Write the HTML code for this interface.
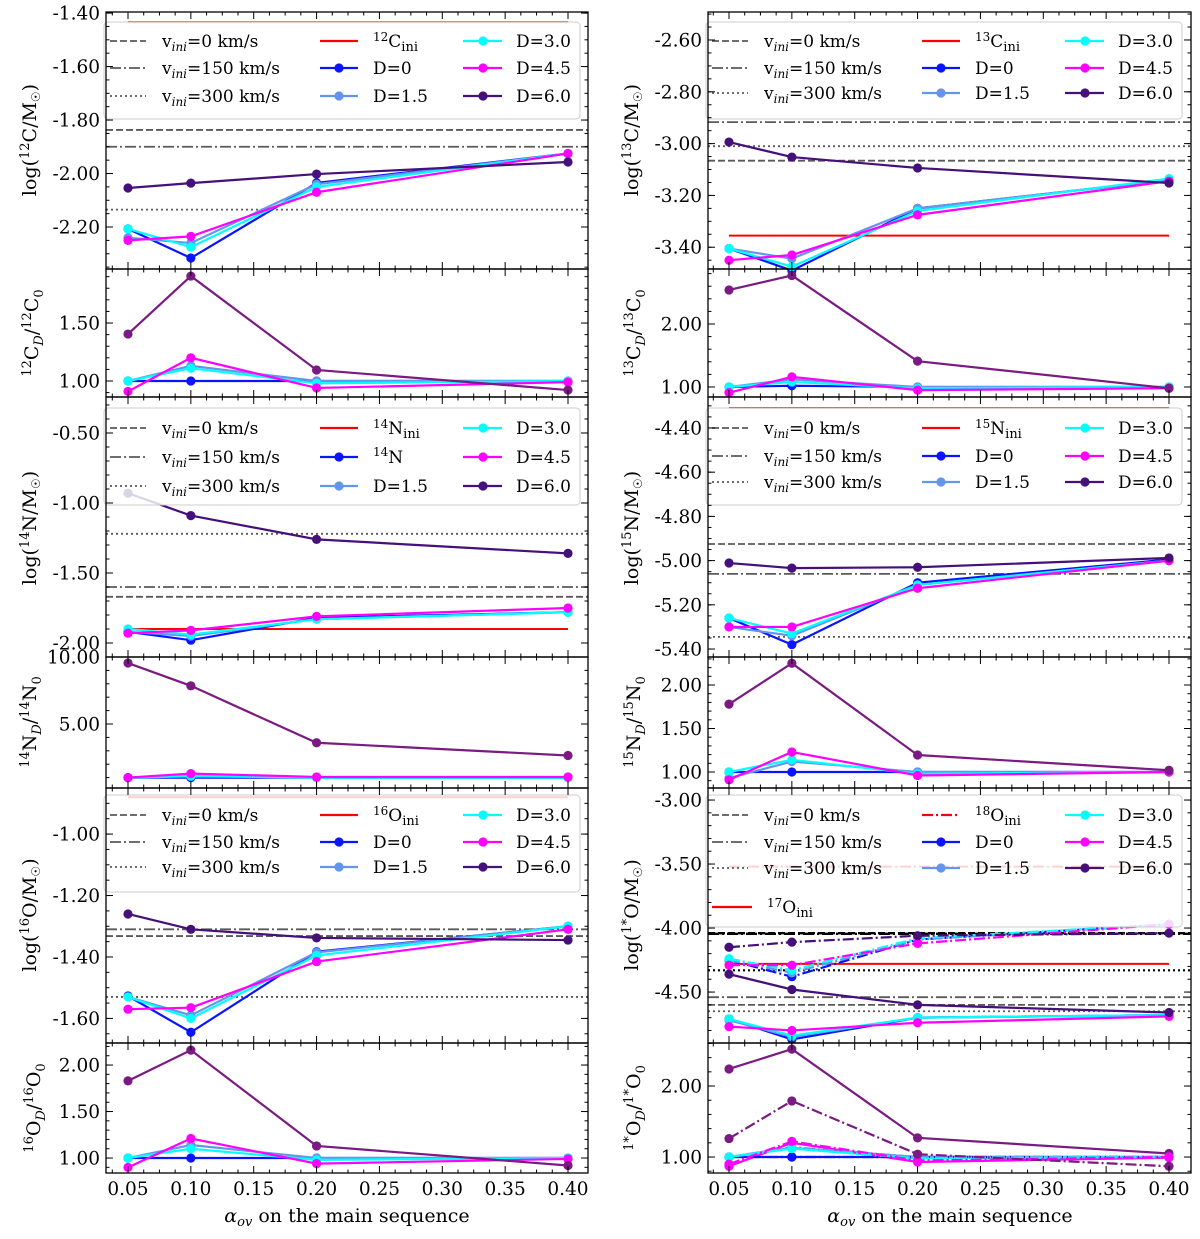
<!DOCTYPE html>
<html><head><meta charset="utf-8"><title>Isotope abundances vs overshoot</title>
<style>
html,body{margin:0;padding:0;background:#fff;}
svg{display:block;font-family:"DejaVu Serif","Liberation Serif",serif;}
</style></head>
<body>
<svg id="chart" width="1200" height="1239" viewBox="0 0 1200 1239" xmlns="http://www.w3.org/2000/svg"></svg>
<script>
// ---------- data ----------
const xVals = [0.05, 0.10, 0.20, 0.40];
const xTicks = [0.05, 0.10, 0.15, 0.20, 0.25, 0.30, 0.35, 0.40];
const xTickLabels = ["0.05","0.10","0.15","0.20","0.25","0.30","0.35","0.40"];

// 12C
const c12_d0 = [-2.207, -2.316, -2.035, -1.925];
const c12_d15 = [-2.24, -2.26, -2.04, -1.925];
const c12_d3 = [-2.207, -2.275, -2.05, -1.925];
const c12_d45 = [-2.25, -2.235, -2.07, -1.925];
const c12_d6 = [-2.054, -2.036, -2.002, -1.957];
const c12_h = [-1.837, -1.90, -2.135, -1.434]; // v0, v150, v300, ini
const c12r_d0 = [1, 1, 1, 1];
const c12r_d15 = [1.0, 1.13, 1.0, 1.0];
const c12r_d3 = [1.0, 1.11, 0.98, 1.0];
const c12r_d45 = [0.91, 1.2, 0.94, 0.99];
const c12r_d6 = [1.405, 1.905, 1.095, 0.922];
// 13C
const c13_d0 = [-3.405, -3.49, -3.25, -3.14];
const c13_d15 = [-3.405, -3.444, -3.25, -3.14];
const c13_d3 = [-3.405, -3.475, -3.26, -3.135];
const c13_d45 = [-3.45, -3.43, -3.275, -3.145];
const c13_d6 = [-2.994, -3.052, -3.094, -3.152];
const c13_h = [-3.066, -2.917, -3.01, -3.355];
const c13r_d0 = [1, 1.02, 1, 1];
const c13r_d15 = [1, 1.12, 1, 1];
const c13r_d3 = [1, 1.08, 0.98, 1];
const c13r_d45 = [0.91, 1.16, 0.95, 0.98];
const c13r_d6 = [2.54, 2.77, 1.41, 0.98];
// 14N
const n14_d0 = [-1.92, -1.98, -1.82, -1.78];
const n14_d15 = [-1.92, -1.95, -1.83, -1.78];
const n14_d3 = [-1.90, -1.94, -1.83, -1.78];
const n14_d45 = [-1.93, -1.91, -1.81, -1.75];
const n14_d6 = [-0.93, -1.09, -1.26, -1.36];
const n14_h = [-1.67, -1.60, -1.22, -1.90];
const n14r_d0 = [1, 1, 1, 1];
const n14r_d15 = [1, 1.15, 1, 1];
const n14r_d3 = [1, 1.1, 1, 1];
const n14r_d45 = [1, 1.3, 1.05, 1.05];
const n14r_d6 = [9.55, 7.85, 3.6, 2.65];
// 15N
const n15_d0 = [-5.26, -5.38, -5.10, -4.995];
const n15_d15 = [-5.30, -5.34, -5.11, -5.0];
const n15_d3 = [-5.26, -5.33, -5.11, -5.0];
const n15_d45 = [-5.30, -5.30, -5.125, -5.0];
const n15_d6 = [-5.011, -5.034, -5.03, -4.988];
const n15_h = [-4.925, -5.06, -5.345, -4.31];
const n15r_d0 = [1, 1, 1, 1];
const n15r_d15 = [0.93, 1.12, 1, 1];
const n15r_d3 = [1, 1.14, 0.98, 1];
const n15r_d45 = [0.91, 1.23, 0.96, 1];
const n15r_d6 = [1.78, 2.25, 1.195, 1.02];
// 16O
const o16_d0 = [-1.527, -1.645, -1.383, -1.30];
const o16_d15 = [-1.53, -1.59, -1.385, -1.30];
const o16_d3 = [-1.53, -1.60, -1.395, -1.30];
const o16_d45 = [-1.57, -1.565, -1.415, -1.31];
const o16_d6 = [-1.26, -1.31, -1.338, -1.345];
const o16_h = [-1.332, -1.31, -1.53, -0.88];
const o16r_d0 = [1, 1, 1, 1];
const o16r_d15 = [1, 1.14, 1, 1];
const o16r_d3 = [1, 1.10, 0.98, 1];
const o16r_d45 = [0.90, 1.21, 0.94, 0.99];
const o16r_d6 = [1.83, 2.16, 1.13, 0.92];
// 17O (solid) and 18O (dash-dot)
const o17_d0 = [-4.71, -4.87, -4.70, -4.68];
const o17_d15 = [-4.72, -4.85, -4.70, -4.68];
const o17_d3 = [-4.71, -4.84, -4.70, -4.68];
const o17_d45 = [-4.77, -4.80, -4.74, -4.69];
const o17_d6 = [-4.36, -4.48, -4.60, -4.66];
const o17_h = [-4.60, -4.54, -4.65, -4.28];
const o18_d0 = [-4.25, -4.38, -4.09, -3.97];
const o18_d15 = [-4.25, -4.35, -4.09, -3.97];
const o18_d3 = [-4.24, -4.33, -4.08, -3.97];
const o18_d45 = [-4.29, -4.29, -4.12, -3.97];
const o18_d6 = [-4.15, -4.11, -4.06, -4.04];
const o18_h = [-4.04, -4.045, -4.33, -3.52];
const o17r_d0 = [1, 1, 1, 1];
const o17r_d15 = [1, 1.13, 1, 1];
const o17r_d3 = [1, 1.12, 0.98, 1];
const o17r_d45 = [0.87, 1.2, 0.93, 0.99];
const o17r_d6 = [2.24, 2.52, 1.27, 1.05];
const o18r_d0 = [1, 1, 1, 1];
const o18r_d15 = [1, 1.14, 1, 1];
const o18r_d3 = [1, 1.12, 0.98, 1];
const o18r_d45 = [0.9, 1.22, 0.95, 1.0];
const o18r_d6 = [1.26, 1.79, 1.04, 0.87];

// tick values
const tL1 = [-1.40, -1.60, -1.80, -2.00, -2.20];
const tL1r = [1.00, 1.50];
const tR1 = [-2.60, -2.80, -3.00, -3.20, -3.40];
const tR1r = [1.00, 2.00];
const tL2 = [-0.50, -1.00, -1.50, -2.00];
const tL2r = [5.00, 10.00];
const tR2 = [-4.40, -4.60, -4.80, -5.00, -5.20, -5.40];
const tR2r = [1.00, 1.50, 2.00];
const tL3 = [-1.00, -1.20, -1.40, -1.60];
const tL3r = [1.00, 1.50, 2.00];
const tR3 = [-3.00, -3.50, -4.00, -4.50];
const tR3r = [1.00, 2.00];

// ---------- drawing ----------
const NS = "http://www.w3.org/2000/svg";
const svg = document.getElementById("chart");
function mk(tag, attrs, parent) {
  const e = document.createElementNS(NS, tag);
  for (const k in attrs) e.setAttribute(k, attrs[k]);
  (parent || svg).appendChild(e);
  return e;
}
const COL = {d0: "#0a14ff", d15: "#6495ed", d3: "#00ffff", d45: "#ff00ff", d6: "#46107a", d6r: "#7a1a82", gray: "#5a5a5a"};
const DASH = {dash: "7,3", dashdot: "11,3,2,3", dot: "2,3", solid: ""};
const SIDES = {L: {x0: 106, x1: 588, a: 128}, R: {x0: 708, x1: 1191, a: 729}};
const XS = 440 / 0.35;
const TICKFS = 18.5;

function makeAxes(side, top, bot, vTop, vBot) {
  const s = SIDES[side];
  return {
    s, top, bot,
    x: v => s.a + (v - 0.05) * XS,
    y: v => top + (vTop - v) / (vTop - vBot) * (bot - top),
    vTop, vBot
  };
}

function drawFrame(ax, ticks, minorStep, showX, name) {
  const g = mk("g", {});
  
  
  const s = ax.s;
  const fr = mk("rect", {x: s.x0, y: ax.top, width: s.x1 - s.x0, height: ax.bot - ax.top, fill: "none", stroke: "#000", "stroke-width": 1.3}, g);
  
  
  for (let v = 0.0375; v <= 0.4001; v += 0.0125) {
    const px = ax.x(v);
    if (px < s.x0 || px > s.x1) continue;
    const major = Math.abs((v / 0.05) - Math.round(v / 0.05)) < 1e-6;
    const L = major ? 7 : 3.5;
    mk("line", {x1: px, x2: px, y1: ax.bot, y2: ax.bot - L, stroke: "#000", "stroke-width": 1}, g);
    mk("line", {x1: px, x2: px, y1: ax.top, y2: ax.top + L, stroke: "#000", "stroke-width": 1}, g);
  }
  if (showX) {
    xTicks.forEach((v, i) => {
      const t = mk("text", {x: ax.x(v), y: ax.bot + 22, "font-size": TICKFS, "text-anchor": "middle", fill: "#000"}, g);
      t.textContent = xTickLabels[i];
      
      
    });
  }
  const lo = Math.min(ax.vTop, ax.vBot), hi = Math.max(ax.vTop, ax.vBot);
  for (let v = Math.ceil(lo / minorStep) * minorStep; v <= hi; v += minorStep) {
    const py = ax.y(v);
    mk("line", {x1: s.x0, x2: s.x0 + 3.5, y1: py, y2: py, stroke: "#000", "stroke-width": 1}, g);
    mk("line", {x1: s.x1, x2: s.x1 - 3.5, y1: py, y2: py, stroke: "#000", "stroke-width": 1}, g);
  }
  ticks.forEach(v => {
    const py = ax.y(v);
    mk("line", {x1: s.x0, x2: s.x0 + 7, y1: py, y2: py, stroke: "#000", "stroke-width": 1}, g);
    mk("line", {x1: s.x1, x2: s.x1 - 7, y1: py, y2: py, stroke: "#000", "stroke-width": 1}, g);
    const t = mk("text", {x: s.x0 - 6, y: py + 6.5, "font-size": TICKFS, "text-anchor": "end", fill: "#000"}, g);
    t.textContent = v.toFixed(2);
    
    
  });
}

function hline(ax, v, color, dash, w, name) {
  const l = mk("line", {x1: ax.s.x0, x2: ax.s.x1, y1: ax.y(v), y2: ax.y(v), stroke: color, "stroke-width": w || 1.8, "stroke-dasharray": DASH[dash]});
  
  
}
function hlineIni(ax, v, dash, name) {
  const l = mk("line", {x1: ax.x(0.05), x2: ax.x(0.40), y1: ax.y(v), y2: ax.y(v), stroke: "#ff0000", "stroke-width": 2, "stroke-dasharray": DASH[dash]});
  
  
}
function series(ax, vals, color, dash, name) {
  const g = mk("g", {});
  
  
  const pts = vals.map((v, i) => ax.x(xVals[i]) + "," + ax.y(v)).join(" ");
  mk("polyline", {points: pts, fill: "none", stroke: color, "stroke-width": 2.2, "stroke-dasharray": DASH[dash]}, g);
  vals.forEach((v, i) => {
    const c = mk("circle", {cx: ax.x(xVals[i]), cy: ax.y(v), r: 4.6, fill: color}, g);
    
    
  });
}
function fiveSeries(ax, d0, d15, d3, d45, d6, dash, ratio, name) {
  series(ax, d0, COL.d0, dash, name + "-d0");
  series(ax, d15, COL.d15, dash, name + "-d1.5");
  series(ax, d3, COL.d3, dash, name + "-d3.0");
  series(ax, d45, COL.d45, dash, name + "-d4.5");
  series(ax, d6, ratio ? COL.d6r : COL.d6, dash, name + "-d6.0");
}

function ylabel(x, yc, html, name) {
  const t = mk("text", {x: 0, y: 0, transform: "translate(" + x + "," + yc + ") rotate(-90)", "font-size": 19, "text-anchor": "middle", fill: "#000"});
  t.innerHTML = html;
  
  
}
function supEl(s, el) { return '<tspan dy="-7" font-size="12">' + s + '</tspan><tspan dy="7">' + el + '</tspan>'; }

function legend(side, top, rows, mid, extraRow) {
  const off = side === "L" ? 0 : 602;
  const h = extraRow ? 132 : 97;
  const g = mk("g", {});
  
  
  mk("rect", {x: 104 + off, y: top, width: 476, height: h, rx: 4, fill: "#fff", "fill-opacity": 0.82, stroke: "#cccccc", "stroke-width": 1}, g);
  const vlabels = ["=0 km/s", "=150 km/s", "=300 km/s"];
  const vd = ["dash", "dashdot", "dot"];
  for (let i = 0; i < 3; i++) {
    const yy = rows[i];
    mk("line", {x1: 110 + off, x2: 146 + off, y1: yy, y2: yy, stroke: COL.gray, "stroke-width": 1.8, "stroke-dasharray": DASH[vd[i]]}, g);
    const t = mk("text", {x: 162 + off, y: yy + 6, "font-size": 17, fill: "#000"}, g);
    t.innerHTML = 'v<tspan dy="4" font-size="12" font-style="italic">ini</tspan><tspan dy="-4">' + vlabels[i] + '</tspan>';
    
    
  }
  const c2 = [{color: "#ff0000", marker: false, dash: mid.iniDash, label: mid.ini},
              {color: COL.d0, marker: true, dash: "solid", label: mid.second},
              {color: COL.d15, marker: true, dash: "solid", label: "D=1.5"}];
  const c3 = [{color: COL.d3, label: "D=3.0"}, {color: COL.d45, label: "D=4.5"}, {color: COL.d6, label: "D=6.0"}];
  c2.forEach((e, i) => {
    const yy = rows[i];
    mk("line", {x1: 320 + off, x2: 358 + off, y1: yy, y2: yy, stroke: e.color, "stroke-width": 2.2, "stroke-dasharray": DASH[e.dash]}, g);
    if (e.marker) mk("circle", {cx: 339 + off, cy: yy, r: 4.6, fill: e.color}, g);
    const t = mk("text", {x: 373 + off, y: yy + 6, "font-size": 17, fill: "#000"}, g);
    t.innerHTML = e.label;
    
    
  });
  c3.forEach((e, i) => {
    const yy = rows[i];
    mk("line", {x1: 463 + off, x2: 502 + off, y1: yy, y2: yy, stroke: e.color, "stroke-width": 2.2}, g);
    mk("circle", {cx: 483 + off, cy: yy, r: 4.6, fill: e.color}, g);
    const t = mk("text", {x: 516 + off, y: yy + 6, "font-size": 17, fill: "#000"}, g);
    t.textContent = e.label;
    
    
  });
  if (extraRow) {
    const yy = extraRow.y;
    mk("line", {x1: 110 + off, x2: 150 + off, y1: yy, y2: yy, stroke: "#ff0000", "stroke-width": 2.2}, g);
    const t = mk("text", {x: 165 + off, y: yy + 6, "font-size": 17, fill: "#000"}, g);
    t.innerHTML = extraRow.label;
    
    
  }
}
const iniLbl = (m, el) => '<tspan dy="-6" font-size="12">' + m + '</tspan><tspan dy="6">' + el + '</tspan><tspan dy="4" font-size="13">ini</tspan><tspan dy="-4"></tspan>';

// ===== Row 1 =====
let a = makeAxes("L", 12, 269, -1.396, -2.357);
hline(a, c12_h[0], COL.gray, "dash", 1.8, "vini0-line"); hline(a, c12_h[1], COL.gray, "dashdot", 1.8, "vini150-line"); hline(a, c12_h[2], COL.gray, "dot", 1.8, "vini300-line");
hlineIni(a, c12_h[3], "solid", "c12-ini-line");
fiveSeries(a, c12_d0, c12_d15, c12_d3, c12_d45, c12_d6, "solid", false, "c12");
legend("L", 22, [41, 68, 96], {ini: iniLbl("12", "C"), iniDash: "solid", second: "D=0"});
drawFrame(a, tL1, 0.05, false, "c12-main");
a = makeAxes("L", 269, 397, 1.966, 0.862);
fiveSeries(a, c12r_d0, c12r_d15, c12r_d3, c12r_d45, c12r_d6, "solid", true, "c12-ratio");
drawFrame(a, tL1r, 0.1, false, "c12-ratio");

a = makeAxes("R", 12, 269, -2.492, -3.484);
hline(a, c13_h[0], COL.gray, "dash", 1.8, "vini0-line"); hline(a, c13_h[1], COL.gray, "dashdot", 1.8, "vini150-line"); hline(a, c13_h[2], COL.gray, "dot", 1.8, "vini300-line");
hlineIni(a, c13_h[3], "solid", "c13-ini-line");
fiveSeries(a, c13_d0, c13_d15, c13_d3, c13_d45, c13_d6, "solid", false, "c13");
legend("R", 22, [41, 68, 93], {ini: iniLbl("13", "C"), iniDash: "solid", second: "D=0"});
drawFrame(a, tR1, 0.05, false, "c13-main");
a = makeAxes("R", 269, 397, 2.873, 0.841);
fiveSeries(a, c13r_d0, c13r_d15, c13r_d3, c13r_d45, c13r_d6, "solid", true, "c13-ratio");
drawFrame(a, tR1r, 0.2, false, "c13-ratio");

// ===== Row 2 =====
a = makeAxes("L", 397, 657, -0.243, -2.10);
hline(a, n14_h[0], COL.gray, "dash", 1.8, "vini0-line"); hline(a, n14_h[1], COL.gray, "dashdot", 1.8, "vini150-line"); hline(a, n14_h[2], COL.gray, "dot", 1.8, "vini300-line");
hlineIni(a, n14_h[3], "solid", "n14-ini-line");
fiveSeries(a, n14_d0, n14_d15, n14_d3, n14_d45, n14_d6, "solid", false, "n14");
legend("L", 408, [428, 457, 486], {ini: iniLbl("14", "N"), iniDash: "solid", second: supEl("14", "N")});
drawFrame(a, tL2, 0.1, false, "n14-main");
a = makeAxes("L", 657, 788, 10.0, 0.224);
fiveSeries(a, n14r_d0, n14r_d15, n14r_d3, n14r_d45, n14r_d6, "solid", true, "n14-ratio");
drawFrame(a, tL2r, 1, false, "n14-ratio");

a = makeAxes("R", 397, 657, -4.26, -5.436);
hline(a, n15_h[0], COL.gray, "dash", 1.8, "vini0-line"); hline(a, n15_h[1], COL.gray, "dashdot", 1.8, "vini150-line"); hline(a, n15_h[2], COL.gray, "dot", 1.8, "vini300-line");
hlineIni(a, n15_h[3], "solid", "n15-ini-line");
fiveSeries(a, n15_d0, n15_d15, n15_d3, n15_d45, n15_d6, "solid", false, "n15");
legend("R", 408, [428, 456, 482], {ini: iniLbl("15", "N"), iniDash: "solid", second: "D=0"});
drawFrame(a, tR2, 0.05, false, "n15-main");
a = makeAxes("R", 657, 788, 2.322, 0.816);
fiveSeries(a, n15r_d0, n15r_d15, n15r_d3, n15r_d45, n15r_d6, "solid", true, "n15-ratio");
drawFrame(a, tR2r, 0.1, false, "n15-ratio");

// ===== Row 3 =====
a = makeAxes("L", 788, 1043, -0.85, -1.68);
hline(a, o16_h[0], COL.gray, "dash", 1.8, "vini0-line"); hline(a, o16_h[1], COL.gray, "dashdot", 1.8, "vini150-line"); hline(a, o16_h[2], COL.gray, "dot", 1.8, "vini300-line");
hlineIni(a, o16_h[3], "solid", "o16-ini-line");
fiveSeries(a, o16_d0, o16_d15, o16_d3, o16_d45, o16_d6, "solid", false, "o16");
legend("L", 795, [815, 842, 867], {ini: iniLbl("16", "O"), iniDash: "solid", second: "D=0"});
drawFrame(a, tL3, 0.05, false, "o16-main");
a = makeAxes("L", 1043, 1173, 2.237, 0.839);
fiveSeries(a, o16r_d0, o16r_d15, o16r_d3, o16r_d45, o16r_d6, "solid", true, "o16-ratio");
drawFrame(a, tL3r, 0.1, true, "o16-ratio");

a = makeAxes("R", 788, 1043, -2.906, -4.898);
hline(a, o17_h[0], COL.gray, "dash", 1.8, "o17-vini0-line"); hline(a, o17_h[1], COL.gray, "dashdot", 1.8, "o17-vini150-line"); hline(a, o17_h[2], COL.gray, "dot", 1.8, "o17-vini300-line");
hline(a, o18_h[0], "#000", "dash", 2.4, "o18-vini0-line"); hline(a, o18_h[1], "#000", "dashdot", 2.4, "o18-vini150-line"); hline(a, o18_h[2], "#000", "dot", 2.2, "o18-vini300-line");
hlineIni(a, o17_h[3], "solid", "o17-ini-line");
hlineIni(a, o18_h[3], "dashdot", "o18-ini-line");
fiveSeries(a, o17_d0, o17_d15, o17_d3, o17_d45, o17_d6, "solid", false, "o17");
fiveSeries(a, o18_d0, o18_d15, o18_d3, o18_d45, o18_d6, "dashdot", false, "o18");
legend("R", 795, [815, 842, 868], {ini: iniLbl("18", "O"), iniDash: "dashdot", second: "D=0"}, {y: 907, label: iniLbl("17", "O")});
drawFrame(a, tR3, 0.1, false, "o17-o18-main");
a = makeAxes("R", 1043, 1173, 2.606, 0.775);
fiveSeries(a, o17r_d0, o17r_d15, o17r_d3, o17r_d45, o17r_d6, "solid", true, "o17-ratio");
fiveSeries(a, o18r_d0, o18r_d15, o18r_d3, o18r_d45, o18r_d6, "dashdot", true, "o18-ratio");
drawFrame(a, tR3r, 0.2, true, "o-ratio");

// ===== axis titles =====
const logT = (m, el) => 'log(' + '<tspan dy="-7" font-size="13">' + m + '</tspan><tspan dy="7">' + el + '/M</tspan><tspan dy="4" font-size="12">☉</tspan><tspan dy="-4">)</tspan>';
const ratT = (m, el) => '<tspan dy="-7" font-size="13">' + m + '</tspan><tspan dy="7">' + el + '</tspan><tspan dy="5" font-size="13" font-style="italic">D</tspan><tspan dy="-5">/</tspan><tspan dy="-7" font-size="13">' + m + '</tspan><tspan dy="7">' + el + '</tspan><tspan dy="5" font-size="13">0</tspan><tspan dy="-5"></tspan>';
ylabel(36, 140, logT("12", "C"), "y-axis-title-c12");
ylabel(38, 333, ratT("12", "C"), "y-axis-title-c12-ratio");
ylabel(638, 140, logT("13", "C"), "y-axis-title-c13");
ylabel(640, 333, ratT("13", "C"), "y-axis-title-c13-ratio");
ylabel(36, 528, logT("14", "N"), "y-axis-title-n14");
ylabel(36, 722, ratT("14", "N"), "y-axis-title-n14-ratio");
ylabel(638, 528, logT("15", "N"), "y-axis-title-n15");
ylabel(640, 722, ratT("15", "N"), "y-axis-title-n15-ratio");
ylabel(36, 915, logT("16", "O"), "y-axis-title-o16");
ylabel(40, 1108, ratT("16", "O"), "y-axis-title-o16-ratio");
ylabel(638, 915, logT("1*", "O"), "y-axis-title-o17-o18");
ylabel(640, 1108, ratT("1*", "O"), "y-axis-title-o-ratio");

[["L", 347], ["R", 950]].forEach(p => {
  const t = mk("text", {x: p[1], y: 1222, "font-size": 19, "text-anchor": "middle", fill: "#000"});
  t.innerHTML = '<tspan font-style="italic">α</tspan><tspan dy="4" font-size="13" font-style="italic">ov</tspan><tspan dy="-4"> on the main sequence</tspan>';
  
  
});
</script>
</body></html>
